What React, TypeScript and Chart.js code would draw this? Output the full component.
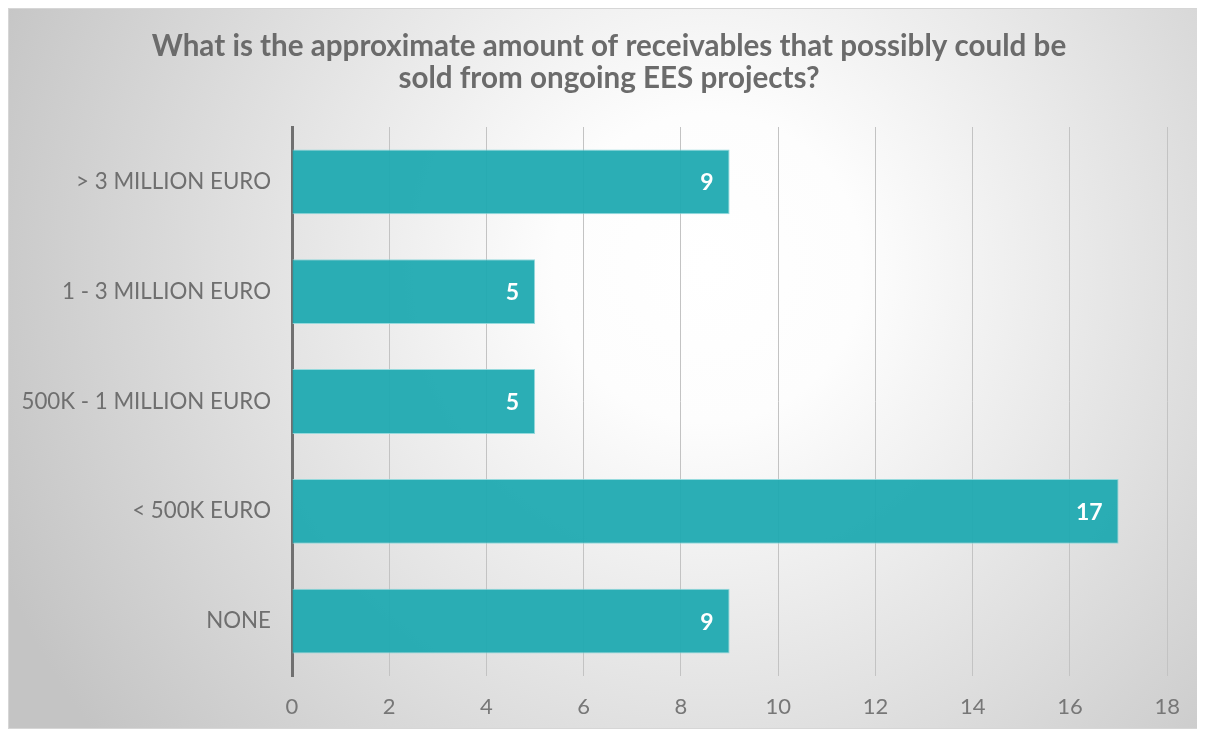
import React, { useEffect, useRef } from "react";
import { Chart, registerables } from "chart.js";

Chart.register(...registerables);

const categories = [
  "> 3 MILLION EURO",
  "1 - 3 MILLION EURO",
  "500K - 1 MILLION EURO",
  "< 500K EURO",
  "NONE",
];
const counts = [9, 5, 5, 17, 9];
const titleLines = [
  "What is the approximate amount of receivables that possibly could be",
  "sold from ongoing EES projects?",
];
const xMin = 0;
const xMax = 18;
const xStep = 2;

const FONT = "Lato, 'Open Sans', sans-serif";

const bgPlugin = {
  id: "bgPlugin",
  beforeDraw(chart: any) {
    const { ctx, width, height } = chart;
    ctx.save();
    const g = ctx.createRadialGradient(700, 260, 0, 700, 260, 770);
    g.addColorStop(0, "#ffffff");
    g.addColorStop(0.2, "#fdfdfd");
    g.addColorStop(1, "#c4c4c4");
    ctx.fillStyle = g;
    ctx.fillRect(0, 0, width, height);
    ctx.strokeStyle = "#d6d6d6";
    ctx.lineWidth = 1;
    ctx.strokeRect(0.5, 0.5, width - 1, height - 1);
    ctx.restore();
  },
};

const titlePlugin = {
  id: "titlePlugin",
  afterDraw(chart: any) {
    const { ctx } = chart;
    ctx.save();
    ctx.fillStyle = "#6b6b6b";
    ctx.font = `bold 29.6px ${FONT}`;
    ctx.textAlign = "center";
    ctx.textBaseline = "middle";
    titleLines.forEach((line, i) => {
      ctx.fillText(line, 601, 38 + i * 32);
    });
    ctx.restore();
  },
};

const labelPlugin = {
  id: "labelPlugin",
  afterDatasetsDraw(chart: any) {
    const { ctx } = chart;
    const meta = chart.getDatasetMeta(0);
    ctx.save();
    ctx.fillStyle = "#ffffff";
    ctx.font = `bold 23px ${FONT}`;
    ctx.textAlign = "right";
    ctx.textBaseline = "middle";
    meta.data.forEach((bar: any, i: number) => {
      ctx.fillText(String(counts[i]), bar.x - 16, bar.y + 1);
    });
    ctx.restore();
  },
};

export default function App() {
  const ref = useRef<HTMLCanvasElement>(null);
  useEffect(() => {
    if (!ref.current) return;
    const chart = new Chart(ref.current, {
      type: "bar",
      data: {
        labels: categories,
        datasets: [
          {
            data: counts,
            backgroundColor: "rgba(30,169,176,0.94)",
            borderColor: "rgba(140,215,218,0.9)",
            borderWidth: 1,
            categoryPercentage: 1,
            barPercentage: 0.59,
          },
        ],
      },
      options: {
        indexAxis: "y",
        animation: false,
        responsive: false,
        layout: { padding: { left: 10, right: 30, top: 119, bottom: 0 } },
        plugins: {
          legend: { display: false },
          tooltip: { enabled: false },
          title: { display: false },
        },
        scales: {
          x: {
            min: xMin,
            max: xMax,
            ticks: {
              stepSize: xStep,
              color: "#777777",
              font: { family: FONT, size: 22 },
              padding: 18,
            },
            grid: { color: "#c3c3c3", lineWidth: 1, drawTicks: false },
            border: { display: false },
            afterFit(scale: any) {
              scale.height = 53;
            },
          },
          y: {
            ticks: {
              color: "#6f6f6f",
              font: { family: FONT, size: 22.3 },
              padding: 21,
            },
            grid: { display: false, drawTicks: false },
            border: { display: true, color: "#707070", width: 3 },
            afterFit(scale: any) {
              scale.width = 274;
            },
          },
        },
      },
      plugins: [bgPlugin, labelPlugin, titlePlugin],
    });
    return () => chart.destroy();
  }, []);
  return (
    <div style={{ width: 1190, height: 721 }}>
      <canvas ref={ref} width={1190} height={721} style={{ width: 1190, height: 721 }} />
    </div>
  );
}
